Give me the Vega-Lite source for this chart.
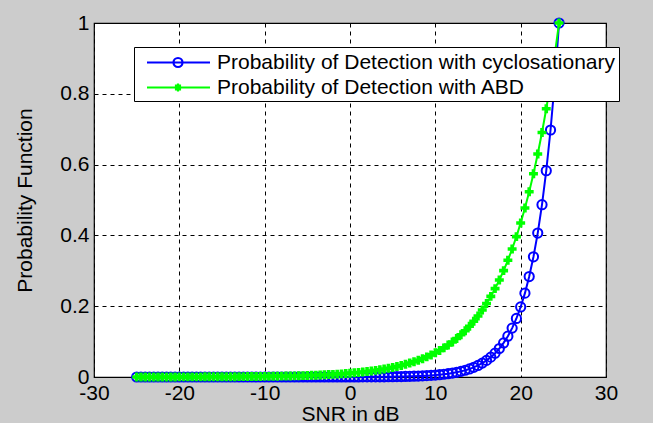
{
  "$schema": "https://vega.github.io/schema/vega-lite/v6.json",
  "width": 512,
  "height": 354,
  "autosize": {"type": "none"},
  "padding": {"left": 94, "top": 23, "right": 47, "bottom": 46},
  "background": "#cccccc",
  "config": {
    "view": {"fill": "white", "stroke": "black", "strokeWidth": 1.2},
    "font": "Liberation Sans",
    "axis": {
      "grid": true,
      "gridColor": "black",
      "gridOpacity": 1,
      "gridDash": [4, 4],
      "gridWidth": 1,
      "ticks": false,
      "domain": false,
      "labelFont": "Liberation Sans",
      "labelFontSize": 21,
      "labelColor": "black",
      "labelFlush": false,
      "labelOverlap": false,
      "titleFont": "Liberation Sans",
      "titleFontSize": 21,
      "titleFontWeight": "normal",
      "titleColor": "black"
    }
  },
  "data": {
    "values": [
      {"snr": -25, "c": 0, "a": 0.0001}, {"snr": -24.5, "c": 0, "a": 0.0001}, {"snr": -24, "c": 0, "a": 0.0001}, {"snr": -23.5, "c": 0, "a": 0.0001},
      {"snr": -23, "c": 0, "a": 0.0002}, {"snr": -22.5, "c": 0, "a": 0.0002}, {"snr": -22, "c": 0, "a": 0.0002}, {"snr": -21.5, "c": 0, "a": 0.0002},
      {"snr": -21, "c": 0, "a": 0.0002}, {"snr": -20.5, "c": 0, "a": 0.0002}, {"snr": -20, "c": 0, "a": 0.0003}, {"snr": -19.5, "c": 0, "a": 0.0003},
      {"snr": -19, "c": 0, "a": 0.0003}, {"snr": -18.5, "c": 0, "a": 0.0004}, {"snr": -18, "c": 0, "a": 0.0004}, {"snr": -17.5, "c": 0, "a": 0.0004},
      {"snr": -17, "c": 0, "a": 0.0005}, {"snr": -16.5, "c": 0, "a": 0.0005}, {"snr": -16, "c": 0, "a": 0.0006}, {"snr": -15.5, "c": 0, "a": 0.0006},
      {"snr": -15, "c": 0, "a": 0.0007}, {"snr": -14.5, "c": 0, "a": 0.0007}, {"snr": -14, "c": 0, "a": 0.0008}, {"snr": -13.5, "c": 0, "a": 0.0009},
      {"snr": -13, "c": 0, "a": 0.0010}, {"snr": -12.5, "c": 0, "a": 0.0011}, {"snr": -12, "c": 0, "a": 0.0012}, {"snr": -11.5, "c": 0, "a": 0.0013},
      {"snr": -11, "c": 0, "a": 0.0014}, {"snr": -10.5, "c": 0, "a": 0.0015}, {"snr": -10, "c": 0, "a": 0.0017}, {"snr": -9.5, "c": 0, "a": 0.0018},
      {"snr": -9, "c": 0, "a": 0.0020}, {"snr": -8.5, "c": 0, "a": 0.0022}, {"snr": -8, "c": 0, "a": 0.0024}, {"snr": -7.5, "c": 0, "a": 0.0027},
      {"snr": -7, "c": 0, "a": 0.0029}, {"snr": -6.5, "c": 0, "a": 0.0032}, {"snr": -6, "c": 0, "a": 0.0035}, {"snr": -5.5, "c": 0, "a": 0.0039},
      {"snr": -5, "c": 0, "a": 0.0043}, {"snr": -4.5, "c": 0, "a": 0.0047}, {"snr": -4, "c": 0, "a": 0.0051}, {"snr": -3.5, "c": 0, "a": 0.0056},
      {"snr": -3, "c": 0, "a": 0.0062}, {"snr": -2.5, "c": 0, "a": 0.0068}, {"snr": -2, "c": 0, "a": 0.0074}, {"snr": -1.5, "c": 0, "a": 0.0082},
      {"snr": -1, "c": 0, "a": 0.0089}, {"snr": -0.5, "c": 0.0001, "a": 0.0098}, {"snr": 0, "c": 0.0001, "a": 0.0108}, {"snr": 0.5, "c": 0.0002, "a": 0.0118},
      {"snr": 1, "c": 0.0002, "a": 0.0129}, {"snr": 1.5, "c": 0.0003, "a": 0.0142}, {"snr": 2, "c": 0.0003, "a": 0.0156}, {"snr": 2.5, "c": 0.0004, "a": 0.0171},
      {"snr": 3, "c": 0.0004, "a": 0.0187}, {"snr": 3.5, "c": 0.0005, "a": 0.0205}, {"snr": 4, "c": 0.0006, "a": 0.0225}, {"snr": 4.5, "c": 0.0007, "a": 0.0247},
      {"snr": 5, "c": 0.0009, "a": 0.0271}, {"snr": 5.5, "c": 0.0011, "a": 0.0298}, {"snr": 6, "c": 0.0013, "a": 0.0326}, {"snr": 6.5, "c": 0.0015, "a": 0.0358},
      {"snr": 7, "c": 0.0018, "a": 0.0393}, {"snr": 7.5, "c": 0.0022, "a": 0.0431}, {"snr": 8, "c": 0.0026, "a": 0.0472}, {"snr": 8.5, "c": 0.0031, "a": 0.0518},
      {"snr": 9, "c": 0.0038, "a": 0.0568}, {"snr": 9.5, "c": 0.0045, "a": 0.0624}, {"snr": 10, "c": 0.0054, "a": 0.0684}, {"snr": 10.5, "c": 0.0065, "a": 0.0750},
      {"snr": 11, "c": 0.0078, "a": 0.0823}, {"snr": 11.5, "c": 0.0093, "a": 0.0903}, {"snr": 12, "c": 0.0111, "a": 0.0990}, {"snr": 12.5, "c": 0.0133, "a": 0.1086},
      {"snr": 13, "c": 0.0159, "a": 0.1192}, {"snr": 13.5, "c": 0.0191, "a": 0.1307}, {"snr": 14, "c": 0.0228, "a": 0.1434}, {"snr": 14.5, "c": 0.0273, "a": 0.1573},
      {"snr": 15, "c": 0.0327, "a": 0.1725}, {"snr": 15.5, "c": 0.0392, "a": 0.1892}, {"snr": 16, "c": 0.0469, "a": 0.2076}, {"snr": 16.5, "c": 0.0561, "a": 0.2277},
      {"snr": 17, "c": 0.0672, "a": 0.2497}, {"snr": 17.5, "c": 0.0805, "a": 0.2740}, {"snr": 18, "c": 0.0963, "a": 0.3005}, {"snr": 18.5, "c": 0.1153, "a": 0.3296},
      {"snr": 19, "c": 0.1381, "a": 0.3616}, {"snr": 19.5, "c": 0.1653, "a": 0.3966}, {"snr": 20, "c": 0.1979, "a": 0.4350}, {"snr": 20.5, "c": 0.2369, "a": 0.4772},
      {"snr": 21, "c": 0.2837, "a": 0.5234}, {"snr": 21.5, "c": 0.3396, "a": 0.5741}, {"snr": 22, "c": 0.4066, "a": 0.6298}, {"snr": 22.5, "c": 0.4868, "a": 0.6908},
      {"snr": 23, "c": 0.5827, "a": 0.7577}, {"snr": 23.5, "c": 0.6977, "a": 0.8311}, {"snr": 24, "c": 0.8353, "a": 0.9117}, {"snr": 24.5, "c": 1, "a": 1}
    ]
  },
  "transform": [{"fold": ["c", "a"], "as": ["series", "p"]}],
  "encoding": {
    "x": {
      "field": "snr",
      "type": "quantitative",
      "scale": {"domain": [-30, 30], "nice": false, "zero": false},
      "axis": {"title": "SNR in dB", "values": [-30, -20, -10, 0, 10, 20, 30], "labelExpr": "toString(datum.value)", "labelPadding": 5, "titlePadding": 0}
    },
    "y": {
      "field": "p",
      "type": "quantitative",
      "scale": {"domain": [0, 1], "nice": false},
      "axis": {"title": "Probability Function", "values": [0, 0.2, 0.4, 0.6, 0.8, 1], "labelExpr": "toString(datum.value)", "labelPadding": 5, "titlePadding": 24}
    }
  },
  "layer": [
    {
      "transform": [{"filter": "datum.series == 'c'"}],
      "mark": {"type": "line", "color": "#0000ff", "strokeWidth": 2}
    },
    {
      "transform": [{"filter": "datum.series == 'c'"}],
      "mark": {"type": "point", "shape": "circle", "filled": false, "color": "#0000ff", "size": 85, "strokeWidth": 2, "opacity": 1}
    },
    {
      "transform": [{"filter": "datum.series == 'a'"}],
      "mark": {"type": "line", "color": "#00ff00", "strokeWidth": 2}
    },
    {
      "transform": [{"filter": "datum.series == 'a'"}],
      "mark": {"type": "point", "shape": "cross", "filled": true, "color": "#00ff00", "size": 80, "opacity": 1}
    },
    {
      "mark": {"type": "point", "filled": false, "opacity": 0, "strokeWidth": 2},
      "encoding": {
        "color": {
          "field": "series",
          "type": "nominal",
          "scale": {"domain": ["c", "a"], "range": ["#0000ff", "#00ff00"]},
          "legend": {
            "title": null,
            "orient": "none",
            "legendX": 40,
            "legendY": 24,
            "padding": 3,
            "strokeColor": "black",
            "fillColor": "white",
            "symbolSize": 484,
            "symbolStrokeWidth": 2.2,
            "symbolOpacity": 1,
            "symbolFillColor": "transparent",
            "labelFont": "Liberation Sans",
            "labelFontSize": 21,
            "labelColor": "black",
            "labelOffset": 55,
            "labelLimit": 0,
            "rowPadding": 2,
            "labelExpr": "datum.label == 'c' ? 'Probability of Detection with cyclosationary' : 'Probability of Detection with ABD'"
          }
        },
        "shape": {
          "field": "series",
          "type": "nominal",
          "scale": {"domain": ["c", "a"], "range": ["M-0.227,0H5.5M3,0A0.409,0.409,0,1,1,2.182,0A0.409,0.409,0,1,1,3,0", "M-0.227,0H5.5M2.591,-0.36V0.36M2.231,0H2.951M2.37,-0.18H2.81M2.37,0.18H2.81M2.41,-0.27V0.27M2.77,-0.27V0.27"]},
          "legend": {
            "title": null,
            "orient": "none",
            "legendX": 40,
            "legendY": 24,
            "padding": 3,
            "strokeColor": "black",
            "fillColor": "white",
            "symbolSize": 484,
            "symbolStrokeWidth": 2.2,
            "symbolOpacity": 1,
            "symbolFillColor": "transparent",
            "labelFont": "Liberation Sans",
            "labelFontSize": 21,
            "labelColor": "black",
            "labelOffset": 55,
            "labelLimit": 0,
            "rowPadding": 2,
            "labelExpr": "datum.label == 'c' ? 'Probability of Detection with cyclosationary' : 'Probability of Detection with ABD'"
          }
        }
      }
    }
  ]
}
